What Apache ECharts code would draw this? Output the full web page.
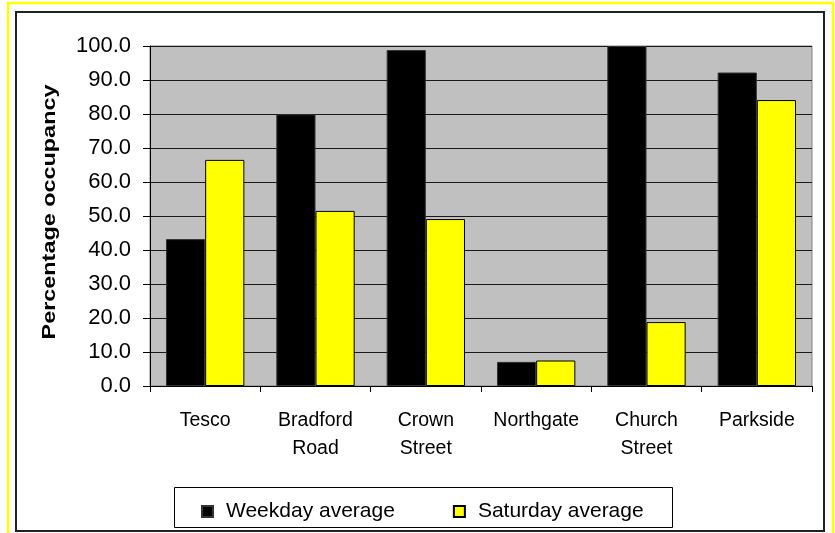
<!DOCTYPE html>
<html>
<head>
<meta charset="utf-8">
<script src="https://cdn.jsdelivr.net/npm/echarts@6/dist/echarts.min.js"></script>
<style>
  html, body { margin: 0; padding: 0; background: #fff; }
  #chart { width: 835px; height: 533px; }
</style>
</head>
<body>
<div id="chart"></div>
<script>
// Car park occupancy by site
const sites = ['Tesco', 'Bradford\nRoad', 'Crown\nStreet', 'Northgate', 'Church\nStreet', 'Parkside'];
const weekdayAverage = [43.2, 79.9, 98.8, 7.1, 100.0, 92.2];
const saturdayAverage = [66.5, 51.5, 49.1, 7.5, 18.8, 84.1];
const seriesNames = ['Weekday average', 'Saturday average'];
const yTitle = 'Percentage occupancy';

const chart = echarts.init(document.getElementById('chart'), null, { renderer: 'canvas' });

const option = {
  animation: false,
  backgroundColor: '#ffffff',
  textStyle: { fontFamily: 'Liberation Sans, Arial, sans-serif' },
  grid: {
    left: 150, right: 23, top: 46, bottom: 147,
    show: true,
    backgroundColor: '#c0c0c0',
    borderColor: '#808080',
    borderWidth: 1
  },
  legend: {
    left: 196,
    top: 496,
    itemWidth: 11,
    itemHeight: 11,
    itemGap: 58,
    icon: 'rect',
    textStyle: { fontSize: 21, color: '#000', padding: [0, 0, 0, 8] },
    data: seriesNames
  },
  xAxis: {
    type: 'category',
    data: sites,
    axisLine: { lineStyle: { color: '#000', width: 1 } },
    axisTick: { show: true, length: 6, lineStyle: { color: '#000' } },
    axisLabel: {
      color: '#000',
      fontSize: 19.5,
      lineHeight: 28,
      margin: 21,
      interval: 0
    }
  },
  yAxis: {
    type: 'value',
    min: 0,
    max: 100,
    interval: 10,
    axisLine: { show: true, lineStyle: { color: '#000', width: 1 } },
    axisTick: { show: true, length: 7, lineStyle: { color: '#000' } },
    splitLine: { show: true, lineStyle: { color: '#1a1a1a', width: 1 } },
    axisLabel: {
      color: '#000',
      fontSize: 22,
      margin: 19,
      formatter: v => v.toFixed(1)
    }
  },
  series: [
    {
      name: seriesNames[0],
      type: 'bar',
      data: weekdayAverage,
      barGap: '0%',
      barCategoryGap: '29%',
      itemStyle: { color: '#000000', borderColor: '#333333', borderWidth: 1 }
    },
    {
      name: seriesNames[1],
      type: 'bar',
      data: saturdayAverage,
      itemStyle: { color: '#ffff00', borderColor: '#000000', borderWidth: 1 }
    }
  ],
  graphic: [
    // outer yellow frame
    {
      type: 'rect', silent: true, z: 100,
      shape: { x: 8, y: 3, width: 825, height: 540 },
      style: { fill: null, stroke: '#ffff00', lineWidth: 2.5 }
    },
    // inner chart frame
    {
      type: 'rect', silent: true, z: 100,
      shape: { x: 16, y: 12, width: 808, height: 519 },
      style: { fill: null, stroke: '#222222', lineWidth: 2 }
    },
    // legend frame
    {
      type: 'rect', silent: true, z: 100,
      shape: { x: 174.5, y: 487.5, width: 498, height: 40 },
      style: { fill: null, stroke: '#000000', lineWidth: 1 }
    },
    // vertical axis title
    {
      type: 'text', silent: true, z: 100,
      x: 50, y: 212,
      rotation: Math.PI / 2,
      scaleX: 1.3,
      style: {
        text: yTitle,
        font: 'bold 18px "Liberation Sans", Arial, sans-serif',
        fill: '#000',
        align: 'center',
        verticalAlign: 'middle'
      }
    }
  ]
};

chart.setOption(option);
</script>
</body>
</html>
